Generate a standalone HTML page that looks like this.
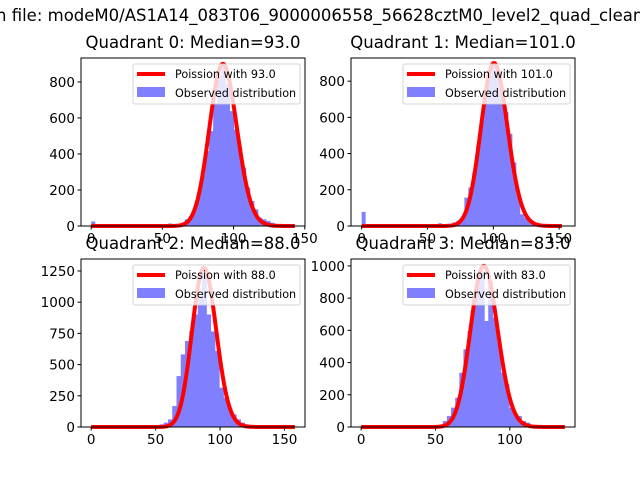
<!DOCTYPE html>
<html><head><meta charset="utf-8"><style>
html,body{margin:0;padding:0;background:#fff;}
svg{display:block;font-family:"DejaVu Sans","Liberation Sans",sans-serif;}
</style></head><body>
<svg id="fig" width="640" height="480" viewBox="0 0 640 480">
<rect width="640" height="480" fill="#fff"/>
<text x="-4" y="21" font-size="16.5" fill="#000">n file: modeM0/AS1A14_083T06_9000006558_56628cztM0_level2_quad_clean.evt</text>
</svg>
<script>
// ---- data ----
const quadNames = ["Quadrant 0: Median=93.0","Quadrant 1: Median=101.0","Quadrant 2: Median=88.0","Quadrant 3: Median=83.0"];
const medians = [93.0, 101.0, 88.0, 83.0];
const poissonPeaks = [900, 900, 1275, 1000];
const curveMax = [143, 152, 158, 137];
const binStarts = [60.0, 66.0, 53.0, 54.9];
const binWidths = [2.85, 3.0, 3.3, 2.78];
const counts0 = [10,18,37,55,92,176,287,416,527,685,833,897,786,638,537,435,324,213,139,92,46,37,28,18,10];
const counts1 = [12,20,30,46,157,213,296,444,583,731,833,897,860,759,629,509,351,176,65,46,37,20,10];
const counts2 = [21,35,61,168,408,582,689,769,902,1049,1276,902,765,609,315,235,155,101,61,35,21];
const counts3 = [37,68,120,182,337,482,596,793,948,969,658,907,679,534,337,265,120,79,68,37,27,12];
const allCounts = [counts0, counts1, counts2, counts3];
// low-value extra bars [value, count]
const lowBars0 = [[0,25],[45,8],[50,10],[54,14]];
const lowBars1 = [[0,78],[30,6],[40,8],[50,10],[58,15]];
const lowBars2 = [];
const lowBars3 = [];
const allLow = [lowBars0, lowBars1, lowBars2, lowBars3];
const xTicks = [[0,50,100,150],[0,50,100,150],[0,50,100,150],[0,50,100]];
const yTicks = [[0,200,400,600,800],[0,200,400,600,800],[0,250,500,750,1000,1250],[0,200,400,600,800,1000]];
const xLims = [[-7.15,150.15],[-8.1,162],[-7.9,165.9],[-6.85,143.85]];
const yLims = [[0,933],[0,928],[0,1346],[0,1043]];
// ---- layout ----
const boxes = [[81,58,305,226],[351,58,575,226],[81,259,305,427],[351,259,575,427]];
const NS="http://www.w3.org/2000/svg";
const svg=document.getElementById('fig');
function mk(tag,attrs,parent){const e=document.createElementNS(NS,tag);for(const k in attrs)e.setAttribute(k,attrs[k]);(parent||svg).appendChild(e);return e;}
function lgamma(n){let s=0;for(let i=2;i<=n;i++)s+=Math.log(i);return s;}
function pmf(k,l){return Math.exp(k*Math.log(l)-l-lgamma(k));}
for(let q=0;q<4;q++){
  const [L,T,R,B]=boxes[q];
  const xs=v=>L+(v-xLims[q][0])/(xLims[q][1]-xLims[q][0])*(R-L);
  const ys=v=>B-(v-yLims[q][0])/(yLims[q][1]-yLims[q][0])*(B-T);
  const g=mk('g',{});
  
  
  const t=mk('text',{x:(L+R)/2,y:T-10,'font-size':16.5,'text-anchor':'middle'},g);
  t.textContent=quadNames[q];
  
  
  // bars
  const c=allCounts[q];
  for(let i=0;i<c.length;i++){
    const x0=binStarts[q]+i*binWidths[q];
    const r=mk('rect',{x:xs(x0),y:ys(c[i]),width:xs(x0+binWidths[q])-xs(x0)+0.6,height:ys(0)-ys(c[i]),fill:'#8080ff'},g);
    
    
  }
  for(const [v,n] of allLow[q]){
    const r=mk('rect',{x:xs(v),y:ys(n),width:xs(v+binWidths[q])-xs(v),height:ys(0)-ys(n),fill:'#8080ff'},g);
    
    
  }
  // poisson curve
  const lam=medians[q],pk=pmf(Math.floor(lam),lam);
  let d='';
  for(let k=0;k<=curveMax[q];k++){d+=(k?'L':'M')+xs(k).toFixed(2)+','+ys(poissonPeaks[q]*pmf(k,lam)/pk).toFixed(2);}
  const p=mk('path',{d:d,fill:'none',stroke:'#ff0000','stroke-width':4,'stroke-linejoin':'round'},g);
  
  
  // frame
  const f=mk('rect',{x:L,y:T,width:R-L,height:B-T,fill:'none',stroke:'#000','stroke-width':1},g);
  
  
  for(const v of xTicks[q]){
    mk('line',{x1:xs(v),x2:xs(v),y1:B,y2:B+3.5,stroke:'#000'},g);
    const tl=mk('text',{x:xs(v),y:B+17,'font-size':13.5,'text-anchor':'middle'},g);
    tl.textContent=v;
    
    
  }
  for(const v of yTicks[q]){
    mk('line',{x1:L-3.5,x2:L,y1:ys(v),y2:ys(v),stroke:'#000'},g);
    const tl=mk('text',{x:L-6,y:ys(v)+5,'font-size':13.5,'text-anchor':'end'},g);
    tl.textContent=v;
    
    
  }
  // legend
  const lg=mk('g',{},g);
  
  
  mk('rect',{x:R-172,y:T+6,width:167,height:40,rx:2,fill:'#fff','fill-opacity':0.8,stroke:'#ccc','stroke-opacity':0.8},lg);
  mk('line',{x1:R-168,x2:R-140,y1:T+16,y2:T+16,stroke:'#ff0000','stroke-width':4},lg);
  mk('rect',{x:R-168,y:T+29,width:28,height:10,fill:'#8080ff'},lg);
  const l1=mk('text',{x:R-130,y:T+20,'font-size':11.2},lg);
  l1.textContent='Poission with '+medians[q].toFixed(1);
  
  
  const l2=mk('text',{x:R-130,y:T+39,'font-size':11.2},lg);
  l2.textContent='Observed distribution';
  
  
}
</script>
</body></html>
